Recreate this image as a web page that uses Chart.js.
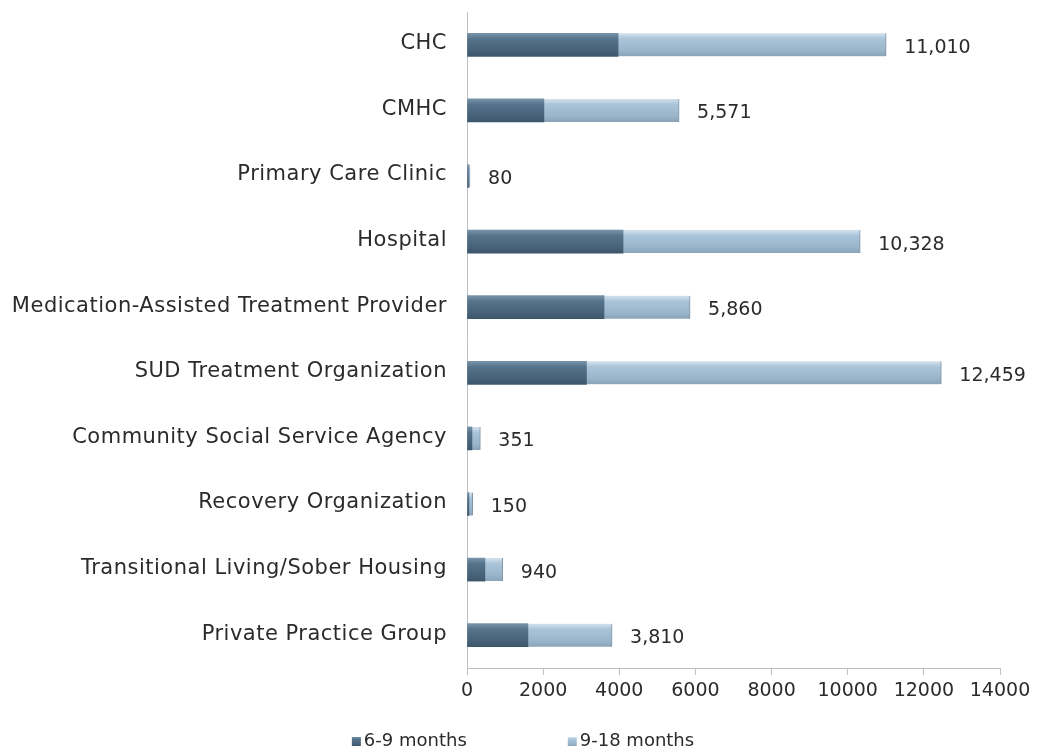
<!DOCTYPE html>
<html>
<head>
<meta charset="utf-8">
<script src="https://cdn.jsdelivr.net/npm/chart.js@4.4.1/dist/chart.umd.min.js"></script>
<style>
  html, body { margin: 0; padding: 0; background: #fff; }
  #wrap { width: 1046px; height: 754px; }
</style>
</head>
<body>
<div id="wrap"><canvas id="myChart" width="1046" height="754"></canvas></div>
<script>
const categories = [
    'CHC',
    'CMHC',
    'Primary Care Clinic',
    'Hospital',
    'Medication-Assisted Treatment Provider',
    'SUD Treatment Organization',
    'Community Social Service Agency',
    'Recovery Organization',
    'Transitional Living/Sober Housing',
    'Private Practice Group'
];
const sixToNine = [3970, 2020, 40, 4100, 3600, 3140, 130, 50, 470, 1600];
const nineToEighteen = [7040, 3551, 40, 6228, 2260, 9319, 221, 100, 470, 2210];
const totals = [11010, 5571, 80, 10328, 5860, 12459, 351, 150, 940, 3810];
const xTicks = [0, 2000, 4000, 6000, 8000, 10000, 12000, 14000];

const FONT = '"DejaVu Sans", sans-serif';
const TEXT = '#2b2b2b';
const BAR_H = 23;

const darkStops = ['#7893a8', '#55738c', '#476279', '#3c566b'];
const lightStops = ['#d3e2ee', '#a9c3d8', '#9ab4ca', '#8aa3b8'];

function makeGrad(ctx, top, h, stops) {
    const g = ctx.createLinearGradient(0, top, 0, top + h);
    g.addColorStop(0, stops[0]);
    g.addColorStop(0.25, stops[1]);
    g.addColorStop(0.75, stops[2]);
    g.addColorStop(1, stops[3]);
    return g;
}

function barFill(stops) {
    return (c) => {
        const chart = c.chart;
        if (c.type !== 'data' || !chart.scales.y) return stops[1];
        const yc = chart.scales.y.getPixelForValue(c.dataIndex);
        if (!isFinite(yc)) return stops[1];
        return makeGrad(chart.ctx, yc - BAR_H / 2, BAR_H, stops);
    };
}

// category names, drawn a bit wider than the stock tick labels
const categoryLabels = {
    id: 'categoryLabels',
    afterDraw(chart) {
        const ctx = chart.ctx;
        const y = chart.scales.y;
        ctx.save();
        ctx.font = '21px ' + FONT;
        ctx.letterSpacing = '0.5px';
        ctx.fillStyle = TEXT;
        ctx.textAlign = 'right';
        ctx.textBaseline = 'middle';
        y.ticks.forEach((t, i) => {
            ctx.fillText(y.getLabelForValue(t.value), y.right - 20, y.getPixelForTick(i) - 1);
        });
        ctx.restore();
    }
};

// totals written to the right of each bar
const totalLabels = {
    id: 'totalLabels',
    afterDatasetsDraw(chart) {
        const ctx = chart.ctx;
        const meta = chart.getDatasetMeta(1);
        ctx.save();
        ctx.font = '19px ' + FONT;
        ctx.fillStyle = TEXT;
        ctx.textAlign = 'left';
        ctx.textBaseline = 'middle';
        meta.data.forEach((bar, i) => {
            ctx.fillText(totals[i].toLocaleString('en-US'), bar.x + 18, bar.y + 3);
        });
        ctx.restore();
    }
};

// legend at the bottom, small square markers like the original
const bottomLegend = {
    id: 'bottomLegend',
    afterDraw(chart) {
        const ctx = chart.ctx;
        const items = chart.data.datasets.map((ds, i) => ({ text: ds.label, stops: i === 0 ? darkStops : lightStops }));
        ctx.save();
        ctx.font = '18px ' + FONT;
        const box = 9, gap = 3, spacing = 101;
        let total = 0;
        items.forEach((it, i) => {
            it.w = box + gap + ctx.measureText(it.text).width;
            total += it.w + (i ? spacing : 0);
        });
        let x = chart.width / 2 - total / 2;
        const y = 741;
        items.forEach((it) => {
            ctx.fillStyle = makeGrad(ctx, y - 4, box, it.stops);
            ctx.fillRect(x, y - 4, box, box);
            ctx.fillStyle = TEXT;
            ctx.textBaseline = 'middle';
            ctx.fillText(it.text, x + box + gap, y);
            x += it.w + spacing;
        });
        ctx.restore();
    }
};

const ctx = document.getElementById('myChart');
const myChart = new Chart(ctx, {
    type: 'bar',
    data: {
        labels: categories,
        datasets: [{
            label: '6-9 months',
            data: sixToNine,
            backgroundColor: barFill(darkStops),
            borderWidth: 0,
            barThickness: BAR_H
        }, {
            label: '9-18 months',
            data: nineToEighteen,
            backgroundColor: barFill(lightStops),
            borderColor: '#7f95a8',
            borderWidth: { right: 1, left: 0, top: 0, bottom: 0 },
            borderSkipped: false,
            barThickness: BAR_H
        }]
    },
    options: {
        indexAxis: 'y',
        responsive: false,
        animation: false,
        layout: { padding: { top: 12, right: 46, left: 0, bottom: 0 } },
        plugins: {
            legend: { display: false },
            tooltip: { enabled: false }
        },
        scales: {
            x: {
                stacked: true,
                min: 0,
                max: 14000,
                afterBuildTicks: (s) => { s.ticks = xTicks.map(v => ({ value: v })); },
                afterFit: (s) => { s.height = 86; },
                grid: {
                    drawOnChartArea: false,
                    drawTicks: true,
                    tickLength: 7,
                    color: '#bfbfbf'
                },
                border: { display: true, color: '#bfbfbf' },
                ticks: {
                    padding: 5,
                    color: TEXT,
                    font: { family: FONT, size: 19 },
                    maxRotation: 0,
                    callback: (v) => String(v)
                }
            },
            y: {
                stacked: true,
                afterFit: (s) => { s.width = 467; s.paddingTop = 0; s.paddingBottom = 0; },
                grid: { display: false, drawTicks: false },
                border: { display: true, color: '#bfbfbf' },
                ticks: { display: false, autoSkip: false }
            }
        }
    },
    plugins: [categoryLabels, totalLabels, bottomLegend]
});
</script>
</body>
</html>
